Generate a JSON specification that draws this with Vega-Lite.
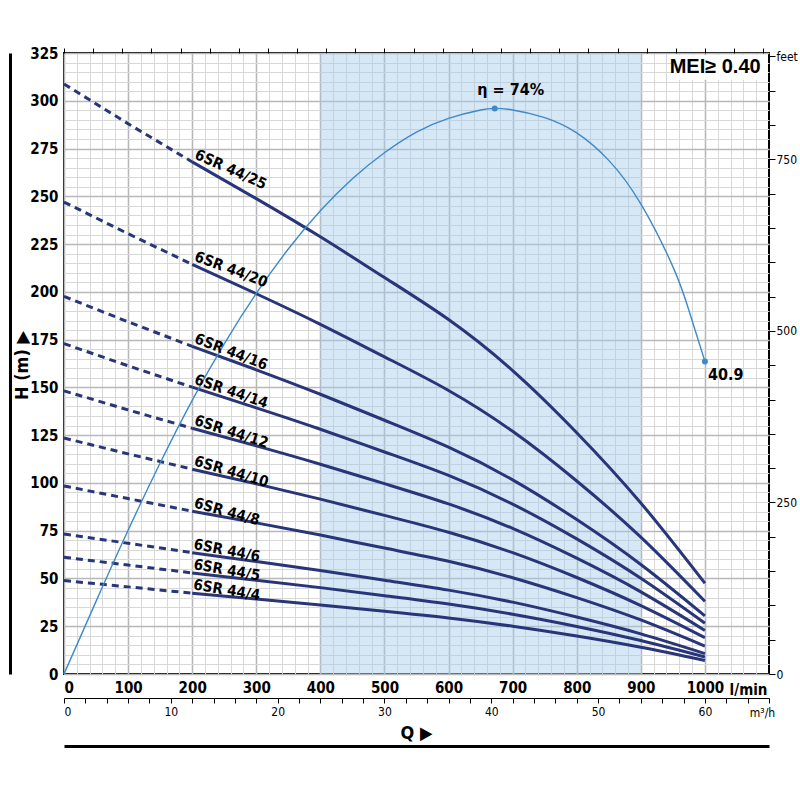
{
  "$schema": "https://vega.github.io/schema/vega-lite/v6.json",
  "width": 705,
  "height": 621,
  "autosize": "none",
  "padding": {"left": 64, "top": 53, "right": 31, "bottom": 126},
  "config": {
    "font": "DejaVu Sans Condensed, Liberation Sans Narrow, Roboto Condensed, Roboto, sans-serif",
    "view": {"stroke": "black", "strokeWidth": 2},
    "axis": {"labelColor": "black", "titleColor": "black"}
  },
  "datasets": {
    "pumps": [
      {"model": "6SR 44/25", "Q": 0, "H": 308.8}, {"model": "6SR 44/25", "Q": 100, "H": 288.0}, {"model": "6SR 44/25", "Q": 200, "H": 268.0},
      {"model": "6SR 44/25", "Q": 300, "H": 248.8}, {"model": "6SR 44/25", "Q": 400, "H": 228.8}, {"model": "6SR 44/25", "Q": 500, "H": 207.5},
      {"model": "6SR 44/25", "Q": 600, "H": 185.5}, {"model": "6SR 44/25", "Q": 700, "H": 158.8}, {"model": "6SR 44/25", "Q": 800, "H": 126.3},
      {"model": "6SR 44/25", "Q": 900, "H": 89.5}, {"model": "6SR 44/25", "Q": 1000, "H": 47.5},
      {"model": "6SR 44/20", "Q": 0, "H": 247.0}, {"model": "6SR 44/20", "Q": 100, "H": 230.4}, {"model": "6SR 44/20", "Q": 200, "H": 214.4},
      {"model": "6SR 44/20", "Q": 300, "H": 199.0}, {"model": "6SR 44/20", "Q": 400, "H": 183.0}, {"model": "6SR 44/20", "Q": 500, "H": 166.0},
      {"model": "6SR 44/20", "Q": 600, "H": 148.4}, {"model": "6SR 44/20", "Q": 700, "H": 127.0}, {"model": "6SR 44/20", "Q": 800, "H": 101.0},
      {"model": "6SR 44/20", "Q": 900, "H": 71.6}, {"model": "6SR 44/20", "Q": 1000, "H": 38.0},
      {"model": "6SR 44/16", "Q": 0, "H": 197.6}, {"model": "6SR 44/16", "Q": 100, "H": 184.3}, {"model": "6SR 44/16", "Q": 200, "H": 171.5},
      {"model": "6SR 44/16", "Q": 300, "H": 159.2}, {"model": "6SR 44/16", "Q": 400, "H": 146.4}, {"model": "6SR 44/16", "Q": 500, "H": 132.8},
      {"model": "6SR 44/16", "Q": 600, "H": 118.7}, {"model": "6SR 44/16", "Q": 700, "H": 101.6}, {"model": "6SR 44/16", "Q": 800, "H": 80.8},
      {"model": "6SR 44/16", "Q": 900, "H": 57.3}, {"model": "6SR 44/16", "Q": 1000, "H": 30.4},
      {"model": "6SR 44/14", "Q": 0, "H": 172.9}, {"model": "6SR 44/14", "Q": 100, "H": 161.3}, {"model": "6SR 44/14", "Q": 200, "H": 150.1},
      {"model": "6SR 44/14", "Q": 300, "H": 139.3}, {"model": "6SR 44/14", "Q": 400, "H": 128.1}, {"model": "6SR 44/14", "Q": 500, "H": 116.2},
      {"model": "6SR 44/14", "Q": 600, "H": 103.9}, {"model": "6SR 44/14", "Q": 700, "H": 88.9}, {"model": "6SR 44/14", "Q": 800, "H": 70.7},
      {"model": "6SR 44/14", "Q": 900, "H": 50.1}, {"model": "6SR 44/14", "Q": 1000, "H": 26.6},
      {"model": "6SR 44/12", "Q": 0, "H": 148.2}, {"model": "6SR 44/12", "Q": 100, "H": 138.2}, {"model": "6SR 44/12", "Q": 200, "H": 128.6},
      {"model": "6SR 44/12", "Q": 300, "H": 119.4}, {"model": "6SR 44/12", "Q": 400, "H": 109.8}, {"model": "6SR 44/12", "Q": 500, "H": 99.6},
      {"model": "6SR 44/12", "Q": 600, "H": 89.0}, {"model": "6SR 44/12", "Q": 700, "H": 76.2}, {"model": "6SR 44/12", "Q": 800, "H": 60.6},
      {"model": "6SR 44/12", "Q": 900, "H": 43.0}, {"model": "6SR 44/12", "Q": 1000, "H": 22.8},
      {"model": "6SR 44/10", "Q": 0, "H": 123.5}, {"model": "6SR 44/10", "Q": 100, "H": 115.2}, {"model": "6SR 44/10", "Q": 200, "H": 107.2},
      {"model": "6SR 44/10", "Q": 300, "H": 99.5}, {"model": "6SR 44/10", "Q": 400, "H": 91.5}, {"model": "6SR 44/10", "Q": 500, "H": 83.0},
      {"model": "6SR 44/10", "Q": 600, "H": 74.2}, {"model": "6SR 44/10", "Q": 700, "H": 63.5}, {"model": "6SR 44/10", "Q": 800, "H": 50.5},
      {"model": "6SR 44/10", "Q": 900, "H": 35.8}, {"model": "6SR 44/10", "Q": 1000, "H": 19.0},
      {"model": "6SR 44/8", "Q": 0, "H": 98.4}, {"model": "6SR 44/8", "Q": 100, "H": 91.8}, {"model": "6SR 44/8", "Q": 200, "H": 85.2},
      {"model": "6SR 44/8", "Q": 300, "H": 79.1}, {"model": "6SR 44/8", "Q": 400, "H": 72.7}, {"model": "6SR 44/8", "Q": 500, "H": 65.9},
      {"model": "6SR 44/8", "Q": 600, "H": 59.0}, {"model": "6SR 44/8", "Q": 700, "H": 50.4}, {"model": "6SR 44/8", "Q": 800, "H": 40.0},
      {"model": "6SR 44/8", "Q": 900, "H": 28.3}, {"model": "6SR 44/8", "Q": 1000, "H": 14.6},
      {"model": "6SR 44/6", "Q": 0, "H": 73.3}, {"model": "6SR 44/6", "Q": 100, "H": 68.4}, {"model": "6SR 44/6", "Q": 200, "H": 63.5},
      {"model": "6SR 44/6", "Q": 300, "H": 58.9}, {"model": "6SR 44/6", "Q": 400, "H": 54.2}, {"model": "6SR 44/6", "Q": 500, "H": 49.1},
      {"model": "6SR 44/6", "Q": 600, "H": 43.9}, {"model": "6SR 44/6", "Q": 700, "H": 37.6}, {"model": "6SR 44/6", "Q": 800, "H": 29.8},
      {"model": "6SR 44/6", "Q": 900, "H": 21.0}, {"model": "6SR 44/6", "Q": 1000, "H": 10.7},
      {"model": "6SR 44/5", "Q": 0, "H": 61.1}, {"model": "6SR 44/5", "Q": 100, "H": 57.0}, {"model": "6SR 44/5", "Q": 200, "H": 52.9},
      {"model": "6SR 44/5", "Q": 300, "H": 49.1}, {"model": "6SR 44/5", "Q": 400, "H": 45.2}, {"model": "6SR 44/5", "Q": 500, "H": 41.0},
      {"model": "6SR 44/5", "Q": 600, "H": 36.6}, {"model": "6SR 44/5", "Q": 700, "H": 31.3}, {"model": "6SR 44/5", "Q": 800, "H": 24.9},
      {"model": "6SR 44/5", "Q": 900, "H": 17.5}, {"model": "6SR 44/5", "Q": 1000, "H": 8.9},
      {"model": "6SR 44/4", "Q": 0, "H": 48.9}, {"model": "6SR 44/4", "Q": 100, "H": 45.6}, {"model": "6SR 44/4", "Q": 200, "H": 42.3},
      {"model": "6SR 44/4", "Q": 300, "H": 39.3}, {"model": "6SR 44/4", "Q": 400, "H": 36.1}, {"model": "6SR 44/4", "Q": 500, "H": 32.8},
      {"model": "6SR 44/4", "Q": 600, "H": 29.3}, {"model": "6SR 44/4", "Q": 700, "H": 25.0}, {"model": "6SR 44/4", "Q": 800, "H": 19.9},
      {"model": "6SR 44/4", "Q": 900, "H": 14.0}, {"model": "6SR 44/4", "Q": 1000, "H": 7.1}
    ],
    "eff": [
      {"Q": 0, "eff": 0}, {"Q": 50, "eff": 9.5}, {"Q": 100, "eff": 18.8}, {"Q": 150, "eff": 27.6},
      {"Q": 200, "eff": 35.8}, {"Q": 250, "eff": 43.2}, {"Q": 300, "eff": 49.8}, {"Q": 350, "eff": 55.6},
      {"Q": 400, "eff": 60.6}, {"Q": 450, "eff": 64.8}, {"Q": 500, "eff": 68.2}, {"Q": 550, "eff": 70.9},
      {"Q": 600, "eff": 72.7}, {"Q": 650, "eff": 73.8}, {"Q": 672, "eff": 74.0, "label": "η = 74%"},
      {"Q": 700, "eff": 73.8}, {"Q": 750, "eff": 72.8}, {"Q": 800, "eff": 70.8}, {"Q": 850, "eff": 67.2},
      {"Q": 900, "eff": 61.5}, {"Q": 950, "eff": 53.3}, {"Q": 975, "eff": 47.6}, {"Q": 1000, "eff": 40.9, "label": "40.9"}
    ],
    "band": [{"from": 400, "to": 900}],
    "one": [{}]
  },
  "layer": [
    {
      "data": {"name": "band"},
      "mark": {"type": "rect", "fill": "#a3c9ea", "opacity": 0.45},
      "encoding": {
        "x": {"field": "from", "type": "quantitative", "scale": {"domain": [0, 1100], "nice": false}, "axis": null},
        "x2": {"field": "to"},
        "y": {"datum": 0, "type": "quantitative", "scale": {"domain": [0, 325], "nice": false}, "axis": null},
        "y2": {"datum": 325}
      }
    },
    {
      "data": {"name": "one"},
      "mark": {"type": "point", "opacity": 0},
      "encoding": {
        "x": {"datum": 0, "type": "quantitative", "scale": {"domain": [0, 1100], "nice": false},
          "axis": {"grid": true, "gridColor": "#d8d8d8", "gridWidth": 1, "labels": false, "ticks": false, "domain": false, "title": null,
            "values": [0,20,40,60,80,100,120,140,160,180,200,220,240,260,280,300,320,340,360,380,400,420,440,460,480,500,520,540,560,580,600,620,640,660,680,700,720,740,760,780,800,820,840,860,880,900,920,940,960,980,1000,1020,1040,1060,1080]}},
        "y": {"datum": 0, "type": "quantitative", "scale": {"domain": [0, 325], "nice": false},
          "axis": {"grid": true, "gridColor": "#d8d8d8", "gridWidth": 1, "labels": false, "ticks": false, "domain": false, "title": null,
            "values": [5,10,15,20,25,30,35,40,45,50,55,60,65,70,75,80,85,90,95,100,105,110,115,120,125,130,135,140,145,150,155,160,165,170,175,180,185,190,195,200,205,210,215,220,225,230,235,240,245,250,255,260,265,270,275,280,285,290,295,300,305,310,315,320]}}
      }
    },
    {
      "data": {"name": "one"},
      "mark": {"type": "point", "opacity": 0},
      "encoding": {
        "x": {"datum": 0, "type": "quantitative", "scale": {"domain": [0, 1100], "nice": false},
          "axis": {"orient": "bottom", "grid": true, "gridColor": "#b8b8b8", "gridWidth": 1.6, "ticks": false, "domain": false, "format": "d",
            "values": [0,100,200,300,400,500,600,700,800,900,1000], "labelFontSize": 15, "labelFontWeight": "bold", "labelPadding": 6,
            "title": "l/min", "titleFontSize": 15, "titleFontWeight": "bold", "titleX": 684, "titleY": 20, "titleBaseline": "alphabetic", "titleAlign": "center"}},
        "y": {"datum": 0, "type": "quantitative", "scale": {"domain": [0, 325], "nice": false},
          "axis": {"orient": "left", "grid": true, "gridColor": "#b8b8b8", "gridWidth": 1.6, "ticks": false, "domain": false,
            "values": [0,25,50,75,100,125,150,175,200,225,250,275,300,325], "labelFontSize": 15, "labelFontWeight": "bold", "labelPadding": 6, "title": null}}
      }
    },
    {
      "data": {"name": "one"},
      "mark": {"type": "point", "opacity": 0},
      "encoding": {
        "x": {"datum": 0, "type": "quantitative", "scale": {"domain": [0, 241.97], "nice": false},
          "axis": {"orient": "top", "labels": false, "domain": false, "tickSize": 5, "tickColor": "black", "tickWidth": 1, "title": null,
            "values": [0,10,20,30,40,50,60,70,80,90,100,110,120,130,140,150,160,170,180,190,200,210,220,230,240]}},
        "y": {"datum": 0, "type": "quantitative", "scale": {"domain": [0, 905], "nice": false},
          "axis": {"orient": "right", "domain": false, "tickSize": 6, "tickColor": "black", "tickWidth": 1, "title": null,
            "values": [0,50,100,150,200,250,300,350,400,450,500,550,600,650,700,750,800,850,900],
            "labelExpr": "datum.value == 900 ? 'feet' : (datum.value % 250 == 0 ? datum.label : '')",
            "labelFontSize": 12, "labelPadding": 1}}
      }
    },
    {
      "data": {"name": "one"},
      "mark": {"type": "point", "opacity": 0},
      "encoding": {
        "x": {"datum": 0, "type": "quantitative", "scale": {"domain": [0, 66], "nice": false},
          "axis": {"orient": "bottom", "offset": 24, "domain": true, "domainColor": "black", "domainWidth": 1, "tickSize": 5, "tickColor": "black", "tickWidth": 1,
            "values": [0,2,4,6,8,10,12,14,16,18,20,22,24,26,28,30,32,34,36,38,40,42,44,46,48,50,52,54,56,58,60,62,64,66],
            "labelExpr": "datum.value % 10 == 0 ? datum.label : ''", "labelFontSize": 12, "labelPadding": 3,
            "title": "m³/h", "titleFontSize": 12, "titleFontWeight": "normal", "titleX": 698, "titleY": 14, "titleAlign": "center", "titleBaseline": "middle"}},
        "y": {"datum": 0, "type": "quantitative", "scale": {"domain": [0, 1]}, "axis": null}
      }
    },
    {
      "data": {"name": "one"},
      "mark": {"type": "point", "opacity": 0},
      "encoding": {
        "x": {"datum": 0, "type": "quantitative", "scale": {"domain": [0, 1]},
          "axis": {"orient": "bottom", "offset": 72, "domain": true, "domainColor": "black", "domainWidth": 3, "ticks": false, "labels": false,
            "title": "Q ▶", "titleFontSize": 18, "titleFontWeight": "bold", "titleX": 352, "titleY": -13, "titleAlign": "center", "titleBaseline": "middle"}},
        "y": {"datum": 0, "type": "quantitative", "scale": {"domain": [0, 1]},
          "axis": {"orient": "left", "offset": 54, "domain": true, "domainColor": "black", "domainWidth": 3, "ticks": false, "labels": false,
            "title": "H (m) ▶", "titleFontSize": 18, "titleFontWeight": "bold", "titleAngle": -90, "titleX": 12, "titleY": 312, "titleAlign": "center", "titleBaseline": "middle"}}
      }
    },
    {
      "data": {"name": "pumps"},
      "transform": [{"filter": "datum.Q <= 200"}],
      "mark": {"type": "line", "stroke": "#283679", "strokeWidth": 3, "strokeDash": [7, 5]},
      "encoding": {
        "x": {"field": "Q", "type": "quantitative", "scale": {"domain": [0, 1100], "nice": false}, "axis": null},
        "y": {"field": "H", "type": "quantitative", "scale": {"domain": [0, 325], "nice": false}, "axis": null},
        "detail": {"field": "model"}
      }
    },
    {
      "data": {"name": "pumps"},
      "transform": [{"filter": "datum.Q >= 200"}],
      "mark": {"type": "line", "stroke": "#283679", "strokeWidth": 3, "interpolate": "natural"},
      "encoding": {
        "x": {"field": "Q", "type": "quantitative", "scale": {"domain": [0, 1100], "nice": false}, "axis": null},
        "y": {"field": "H", "type": "quantitative", "scale": {"domain": [0, 325], "nice": false}, "axis": null},
        "detail": {"field": "model"}
      }
    },
    {
      "data": {"name": "eff"},
      "mark": {"type": "line", "stroke": "#3d89c9", "strokeWidth": 1.4, "interpolate": "natural"},
      "encoding": {
        "x": {"field": "Q", "type": "quantitative", "scale": {"domain": [0, 1100], "nice": false}, "axis": null},
        "y": {"field": "eff", "type": "quantitative", "scale": {"domain": [0, 81.25], "nice": false}, "axis": null}
      }
    },
    {
      "data": {"name": "eff"},
      "transform": [{"filter": "isValid(datum.label)"}],
      "mark": {"type": "circle", "size": 36, "fill": "#3d89c9", "opacity": 1},
      "encoding": {
        "x": {"field": "Q", "type": "quantitative", "scale": {"domain": [0, 1100], "nice": false}, "axis": null},
        "y": {"field": "eff", "type": "quantitative", "scale": {"domain": [0, 81.25], "nice": false}, "axis": null}
      }
    },
    {
      "data": {"name": "eff"},
      "transform": [{"filter": "datum.Q == 672"}],
      "mark": {"type": "text", "fontSize": 16, "fontWeight": "bold", "align": "center", "dx": 16, "dy": -18, "color": "black"},
      "encoding": {
        "x": {"field": "Q", "type": "quantitative", "scale": {"domain": [0, 1100], "nice": false}, "axis": null},
        "y": {"field": "eff", "type": "quantitative", "scale": {"domain": [0, 81.25], "nice": false}, "axis": null},
        "text": {"field": "label"}
      }
    },
    {
      "data": {"name": "eff"},
      "transform": [{"filter": "datum.Q == 1000"}],
      "mark": {"type": "text", "fontSize": 16, "fontWeight": "bold", "align": "left", "dx": 3, "dy": 14, "color": "black"},
      "encoding": {
        "x": {"field": "Q", "type": "quantitative", "scale": {"domain": [0, 1100], "nice": false}, "axis": null},
        "y": {"field": "eff", "type": "quantitative", "scale": {"domain": [0, 81.25], "nice": false}, "axis": null},
        "text": {"field": "label"}
      }
    },
    {
      "data": {"name": "one"},
      "mark": {"type": "rect", "fill": "white"},
      "encoding": {
        "x": {"datum": 949, "type": "quantitative", "scale": {"domain": [0, 1100], "nice": false}, "axis": null},
        "x2": {"datum": 1098},
        "y": {"datum": 311, "type": "quantitative", "scale": {"domain": [0, 325], "nice": false}, "axis": null},
        "y2": {"datum": 324}
      }
    },
    {
      "data": {"name": "one"},
      "mark": {"type": "text", "fontSize": 20, "fontWeight": "bold", "font": "Liberation Sans", "align": "right", "baseline": "middle", "color": "black"},
      "encoding": {
        "x": {"datum": 1087, "type": "quantitative", "scale": {"domain": [0, 1100], "nice": false}, "axis": null},
        "y": {"datum": 317.5, "type": "quantitative", "scale": {"domain": [0, 325], "nice": false}, "axis": null},
        "text": {"value": "MEI≥ 0.40"}
      }
    },
    {"data": {"name": "pumps"}, "transform": [{"filter": "datum.model == '6SR 44/25' && datum.Q == 200"}],
      "mark": {"type": "text", "angle": 24, "align": "left", "baseline": "bottom", "dy": -1, "fontSize": 15, "fontWeight": "bold", "color": "black"},
      "encoding": {"x": {"field": "Q", "type": "quantitative", "scale": {"domain": [0, 1100], "nice": false}, "axis": null},
        "y": {"field": "H", "type": "quantitative", "scale": {"domain": [0, 325], "nice": false}, "axis": null}, "text": {"field": "model"}}},
    {"data": {"name": "pumps"}, "transform": [{"filter": "datum.model == '6SR 44/20' && datum.Q == 200"}],
      "mark": {"type": "text", "angle": 20.5, "align": "left", "baseline": "bottom", "dy": -1, "fontSize": 15, "fontWeight": "bold", "color": "black"},
      "encoding": {"x": {"field": "Q", "type": "quantitative", "scale": {"domain": [0, 1100], "nice": false}, "axis": null},
        "y": {"field": "H", "type": "quantitative", "scale": {"domain": [0, 325], "nice": false}, "axis": null}, "text": {"field": "model"}}},
    {"data": {"name": "pumps"}, "transform": [{"filter": "datum.model == '6SR 44/16' && datum.Q == 200"}],
      "mark": {"type": "text", "angle": 21, "align": "left", "baseline": "bottom", "dy": -1, "fontSize": 15, "fontWeight": "bold", "color": "black"},
      "encoding": {"x": {"field": "Q", "type": "quantitative", "scale": {"domain": [0, 1100], "nice": false}, "axis": null},
        "y": {"field": "H", "type": "quantitative", "scale": {"domain": [0, 325], "nice": false}, "axis": null}, "text": {"field": "model"}}},
    {"data": {"name": "pumps"}, "transform": [{"filter": "datum.model == '6SR 44/14' && datum.Q == 200"}],
      "mark": {"type": "text", "angle": 19, "align": "left", "baseline": "bottom", "dy": -1, "fontSize": 15, "fontWeight": "bold", "color": "black"},
      "encoding": {"x": {"field": "Q", "type": "quantitative", "scale": {"domain": [0, 1100], "nice": false}, "axis": null},
        "y": {"field": "H", "type": "quantitative", "scale": {"domain": [0, 325], "nice": false}, "axis": null}, "text": {"field": "model"}}},
    {"data": {"name": "pumps"}, "transform": [{"filter": "datum.model == '6SR 44/12' && datum.Q == 200"}],
      "mark": {"type": "text", "angle": 18, "align": "left", "baseline": "bottom", "dy": -1, "fontSize": 15, "fontWeight": "bold", "color": "black"},
      "encoding": {"x": {"field": "Q", "type": "quantitative", "scale": {"domain": [0, 1100], "nice": false}, "axis": null},
        "y": {"field": "H", "type": "quantitative", "scale": {"domain": [0, 325], "nice": false}, "axis": null}, "text": {"field": "model"}}},
    {"data": {"name": "pumps"}, "transform": [{"filter": "datum.model == '6SR 44/10' && datum.Q == 200"}],
      "mark": {"type": "text", "angle": 16.5, "align": "left", "baseline": "bottom", "dy": -1, "fontSize": 15, "fontWeight": "bold", "color": "black"},
      "encoding": {"x": {"field": "Q", "type": "quantitative", "scale": {"domain": [0, 1100], "nice": false}, "axis": null},
        "y": {"field": "H", "type": "quantitative", "scale": {"domain": [0, 325], "nice": false}, "axis": null}, "text": {"field": "model"}}},
    {"data": {"name": "pumps"}, "transform": [{"filter": "datum.model == '6SR 44/8' && datum.Q == 200"}],
      "mark": {"type": "text", "angle": 15.5, "align": "left", "baseline": "bottom", "dy": -1, "fontSize": 15, "fontWeight": "bold", "color": "black"},
      "encoding": {"x": {"field": "Q", "type": "quantitative", "scale": {"domain": [0, 1100], "nice": false}, "axis": null},
        "y": {"field": "H", "type": "quantitative", "scale": {"domain": [0, 325], "nice": false}, "axis": null}, "text": {"field": "model"}}},
    {"data": {"name": "pumps"}, "transform": [{"filter": "datum.model == '6SR 44/6' && datum.Q == 200"}],
      "mark": {"type": "text", "angle": 11, "align": "left", "baseline": "bottom", "dy": -1, "fontSize": 15, "fontWeight": "bold", "color": "black"},
      "encoding": {"x": {"field": "Q", "type": "quantitative", "scale": {"domain": [0, 1100], "nice": false}, "axis": null},
        "y": {"field": "H", "type": "quantitative", "scale": {"domain": [0, 325], "nice": false}, "axis": null}, "text": {"field": "model"}}},
    {"data": {"name": "pumps"}, "transform": [{"filter": "datum.model == '6SR 44/5' && datum.Q == 200"}],
      "mark": {"type": "text", "angle": 10, "align": "left", "baseline": "bottom", "dy": -1, "fontSize": 15, "fontWeight": "bold", "color": "black"},
      "encoding": {"x": {"field": "Q", "type": "quantitative", "scale": {"domain": [0, 1100], "nice": false}, "axis": null},
        "y": {"field": "H", "type": "quantitative", "scale": {"domain": [0, 325], "nice": false}, "axis": null}, "text": {"field": "model"}}},
    {"data": {"name": "pumps"}, "transform": [{"filter": "datum.model == '6SR 44/4' && datum.Q == 200"}],
      "mark": {"type": "text", "angle": 9.5, "align": "left", "baseline": "bottom", "dy": -1, "fontSize": 15, "fontWeight": "bold", "color": "black"},
      "encoding": {"x": {"field": "Q", "type": "quantitative", "scale": {"domain": [0, 1100], "nice": false}, "axis": null},
        "y": {"field": "H", "type": "quantitative", "scale": {"domain": [0, 325], "nice": false}, "axis": null}, "text": {"field": "model"}}}
  ],
  "resolve": {"scale": {"x": "independent", "y": "independent"}}
}
